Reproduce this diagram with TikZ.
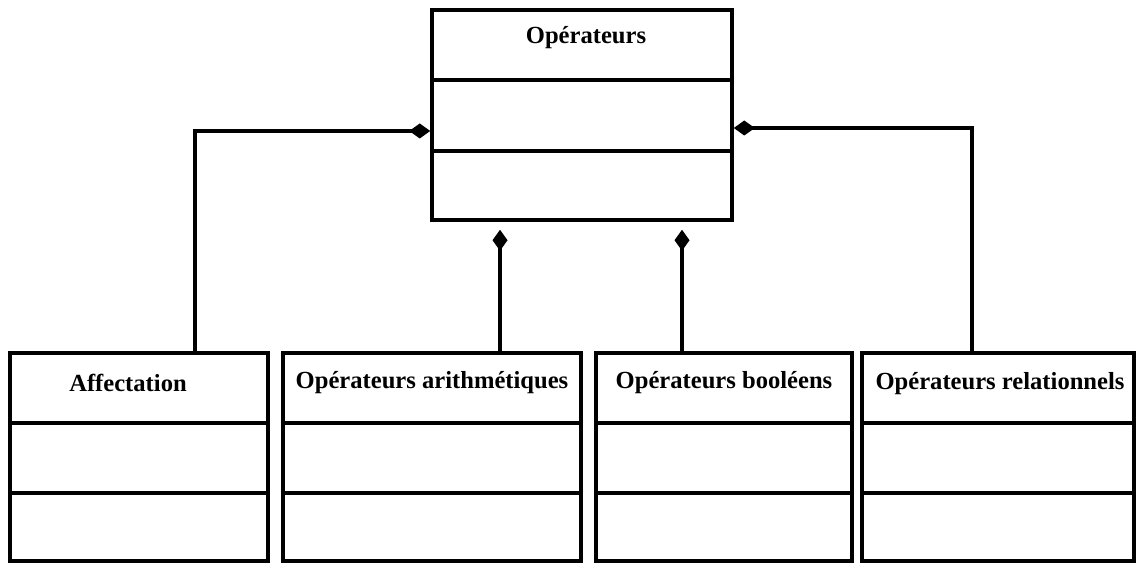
\documentclass[tikz,border=0pt]{standalone}
\usepackage{fontspec}
\setmainfont{Liberation Serif}
\usetikzlibrary{arrows.meta,calc}
\tikzset{
  classbox/.style={draw=black, line width=2pt, fill=none, inner sep=0pt},
  divline/.style={draw=black, line width=2pt},
  classname/.style={font=\bfseries\fontsize{14}{16}\selectfont, inner sep=0pt, anchor=center},
  comp/.style={draw=black, line width=2pt, {Diamond[length=0.42cm,width=0.3cm]}-},
}
\begin{document}
\begin{tikzpicture}[x=0.02cm,y=-0.02cm]
\useasboundingbox (0,0) rectangle (1136,563);
% top class
\node[classbox, minimum width=300*0.02cm, minimum height=210*0.02cm] (top) at (582,115) {};
\draw[divline] (432,80) -- (732,80);
\draw[divline] (432,151) -- (732,151);
\node[classname] (topt) at (586,38) {Opérateurs};
% bottom classes
\node[classbox, minimum width=258*0.02cm, minimum height=208*0.02cm] (aff) at (139,457) {};
\node[classbox, minimum width=298*0.02cm, minimum height=208*0.02cm] (ari) at (432,457) {};
\node[classbox, minimum width=256*0.02cm, minimum height=208*0.02cm] (boo) at (724,457) {};
\node[classbox, minimum width=272*0.02cm, minimum height=208*0.02cm] (rel) at (998,457) {};
\foreach \l/\r in {10/268,283/581,596/852,862/1134}{
  \draw[divline] (\l,423) -- (\r,423);
  \draw[divline] (\l,493) -- (\r,493);
}
\node[classname] (afft) at (128,383) {Affectation};
\node[classname] (arit) at (432,383) {Opérateurs arithmétiques};
\node[classname] (boot) at (724,383) {Opérateurs booléens};
\node[classname] (relt) at (1000,384) {Opérateurs relationnels};
% connectors (composition)
\draw[comp] ($(top.west)+(0,16)$) -| ($(aff.north)+(56,0)$);
\draw[comp] ($(top.east)+(0,13)$) -| ($(rel.north)+(-26,0)$);
\draw[comp] ($(top.south)+(-82,8)$) -- ($(ari.north)+(68,0)$);
\draw[comp] ($(top.south)+(100,8)$) -- ($(boo.north)+(-42,0)$);
\end{tikzpicture}
\end{document}
